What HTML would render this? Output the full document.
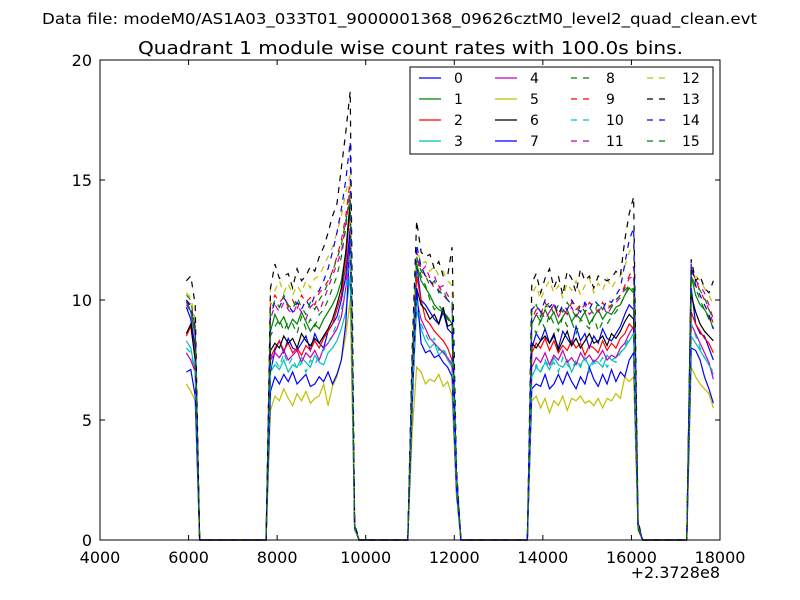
<!DOCTYPE html>
<html><head><meta charset="utf-8"><style>
body{margin:0;background:#fff;}
svg{display:block;font-family:"DejaVu Sans","Liberation Sans",sans-serif;}
</style></head><body>
<svg id="chart" width="800" height="600" viewBox="0 0 800 600" xmlns="http://www.w3.org/2000/svg">
<rect width="800" height="600" fill="#fff"/>
<text x="42" y="24" font-size="15" textLength="715" lengthAdjust="spacingAndGlyphs">Data file: modeM0/AS1A03_033T01_9000001368_09626cztM0_level2_quad_clean.evt</text>
<text x="138" y="54" font-size="18" textLength="545" lengthAdjust="spacingAndGlyphs">Quadrant 1 module wise count rates with 100.0s bins.</text>
<g id="series"></g>
<rect x="100" y="60" width="620" height="480" fill="none" stroke="#000" stroke-width="1"/>
<g id="axes"></g>
<text x="720" y="578" font-size="16" text-anchor="end">+2.3728e8</text>
<g id="legend"></g>
</svg>
<script>
const xTicks = [4000, 6000, 8000, 10000, 12000, 14000, 16000, 18000];
const yTicks = [0, 5, 10, 15, 20];
const seriesNames = ["0","1","2","3","4","5","6","7","8","9","10","11","12","13","14","15"];
const times = [5950,6050,6150,6250,7750,7850,7950,8050,8150,8250,8350,8450,8550,8650,8750,8850,8950,9050,9150,9250,9350,9450,9550,9650,9750,9850,10950,11050,11150,11250,11350,11450,11550,11650,11750,11850,11950,12050,12150,13650,13750,13850,13950,14050,14150,14250,14350,14450,14550,14650,14750,14850,14950,15050,15150,15250,15350,15450,15550,15650,15750,15850,15950,16050,16150,16250,17250,17350,17450,17550,17650,17750,17850];
const s0 = [9.7,9.2,8.0,0,0,7.0,7.9,8.3,7.8,8.4,8.0,7.9,8.2,8.5,7.9,8.6,8.2,8.0,8.7,9.0,9.3,10.0,11.0,13.0,0.6,0,0,7,11.5,10.0,9.8,9.5,9.2,9.0,9.5,8.8,8.6,2.5,0,0,8.0,8.6,8.3,8.8,8.2,8.5,8.0,8.7,8.4,8.1,8.9,8.3,8.6,8.0,8.5,8.2,8.8,8.4,8.3,8.6,8.9,9.4,9.8,9.6,0.5,0,0,10.5,9.0,8.6,8.5,8.0,7.5];
const s1 = [10.0,9.5,8.5,0,0,8.7,9.4,9.0,9.3,8.8,9.2,9.0,9.5,9.1,8.7,9.0,8.8,9.2,9.5,9.8,10.2,10.8,12.0,14.2,0.6,0,0,7,11.5,10.8,10.5,10.2,9.8,9.6,9.5,9.3,9.0,2.5,0,0,9.0,9.4,9.1,9.6,9.2,9.5,9.0,9.3,9.6,9.1,9.4,9.2,9.5,9.0,9.3,9.6,9.2,9.5,9.4,9.7,9.8,10.2,10.5,10.3,0.6,0,0,11.0,10.2,9.8,9.6,9.3,8.8];
const s2 = [8.5,8.9,7.5,0,0,7.6,8.0,8.3,7.9,8.2,7.8,8.0,7.7,8.1,7.9,8.3,8.0,8.4,8.7,9.0,9.6,10.2,11.5,14.0,0.5,0,0,6.5,11.0,10.0,9.2,9.0,8.7,8.5,8.3,8.0,7.5,2.3,0,0,7.8,8.2,8.0,8.4,7.9,8.3,7.8,8.1,7.9,8.3,8.0,8.2,7.7,8.1,8.0,7.8,8.3,7.9,8.2,8.0,8.4,8.6,9.0,8.8,0.5,0,0,9.5,9.0,8.7,8.4,8.2,7.8];
const s3 = [8.3,8.0,7.0,0,0,7.0,7.3,7.1,7.5,7.0,7.3,7.2,7.6,7.4,7.2,7.7,7.4,7.3,7.8,8.0,8.3,8.8,9.5,11.0,0.5,0,0,6,9.6,8.8,8.3,8.0,8.2,7.7,7.9,7.5,7.2,2.2,0,0,6.8,7.2,7.0,7.4,7.1,7.6,7.3,7.2,7.5,7.0,7.4,7.3,7.6,7.2,7.5,7.4,7.2,7.7,7.5,7.6,7.8,8.0,8.3,8.6,0.5,0,0,8.5,8.2,7.9,7.6,7.3,6.9];
const s4 = [7.8,7.5,7.0,0,0,7.5,7.8,7.6,7.9,7.5,7.7,7.9,7.4,7.8,7.6,7.9,7.5,8.0,8.2,8.5,8.8,9.3,10.5,12.5,0.5,0,0,6,10.0,9.2,8.8,8.4,8.2,8.0,7.8,7.6,7.3,2.2,0,0,7.2,7.6,7.4,7.8,7.3,7.7,7.5,7.9,7.4,7.6,7.3,7.8,7.5,7.7,7.4,7.6,7.9,7.5,7.7,7.6,8.0,8.2,8.6,8.9,0.5,0,0,9.0,8.6,8.2,7.8,7.4,6.7];
const s5 = [6.5,6.2,5.8,0,0,5.4,6.0,5.8,6.3,5.9,5.6,6.1,5.8,6.2,5.7,5.9,6.0,6.5,5.6,6.4,6.8,7.5,8.5,10.0,0.4,0,0,4.5,7.2,7.0,6.5,6.7,6.6,6.9,6.4,6.6,6.0,1.8,0,0,5.8,6.0,5.5,5.9,5.3,5.8,5.6,6.0,5.4,5.9,5.8,6.0,5.7,5.8,5.6,5.9,5.5,5.9,5.8,6.1,5.9,6.8,6.6,6.8,0.4,0,0,7.2,6.8,6.5,6.3,6.1,5.5];
const s6 = [8.6,9.0,7.5,0,0,7.9,8.2,8.0,8.5,8.2,8.4,8.0,8.6,8.3,8.1,8.4,8.2,8.5,8.8,9.2,9.8,10.5,12.0,14.0,0.5,0,0,6.6,10.5,9.8,9.6,9.2,9.4,9.0,9.7,8.9,9.0,2.5,0,0,8.2,8.0,8.3,8.5,8.2,8.6,7.9,8.3,8.7,8.1,8.4,8.0,8.3,8.6,8.2,8.3,8.5,8.1,8.6,8.4,8.7,9.1,9.4,9.2,0.5,0,0,10.2,9.5,9.0,8.7,8.5,8.3];
const s7 = [7.0,7.1,6.0,0,0,6.2,6.8,6.5,6.9,6.6,7.0,6.5,6.7,6.9,6.4,6.5,6.8,6.6,7.0,6.5,6.9,7.5,9.0,12.5,0.5,0,0,5.5,10.5,8.2,7.8,7.9,7.6,7.7,7.4,7.2,6.8,2.0,0,0,6.3,6.5,6.4,6.9,6.3,6.5,6.9,6.5,7.0,6.6,6.3,6.8,6.5,7.2,6.7,6.4,6.9,6.5,7.1,6.6,7.0,6.8,7.5,7.8,0.5,0,0,8.0,7.9,7.5,6.8,6.3,5.7];
const s8 = [10.2,10.0,8.8,0,0,8.5,8.9,9.2,8.7,9.1,9.0,8.6,9.3,8.8,9.2,8.9,9.4,9.6,10.0,10.5,11.0,11.8,13.0,14.8,0.6,0,0,7.2,11.8,11.0,10.6,10.0,9.6,9.8,9.5,9.2,9.0,2.6,0,0,9.0,8.6,9.2,8.8,9.4,9.0,8.7,9.3,8.9,9.1,8.6,9.2,9.0,8.8,9.3,8.7,9.1,9.0,9.3,9.5,9.8,10.2,10.6,10.4,0.6,0,0,11.2,10.5,10.0,9.6,9.2,8.8];
const s9 = [10.0,9.8,8.9,0,0,9.8,10.2,9.9,10.1,9.7,10.0,9.6,10.2,9.9,10.1,9.8,10.3,10.5,10.8,11.2,11.8,12.5,13.5,15.0,0.6,0,0,7.5,12.0,11.3,11.0,10.8,10.5,10.6,10.2,10.0,9.8,2.8,0,0,9.2,9.6,9.4,9.9,9.5,9.8,9.3,9.7,9.4,9.9,9.6,9.8,9.5,9.9,9.7,9.5,9.9,9.6,9.8,10.0,10.2,10.6,11.0,11.4,0.7,0,0,11.4,10.8,10.4,10.0,9.6,9.0];
const s10 = [8.0,7.8,7.0,0,0,7.2,7.5,7.2,7.8,7.3,7.6,7.1,7.4,7.0,7.5,7.3,7.7,7.9,8.2,8.6,9.0,9.6,10.5,12.0,0.5,0,0,6,10.0,9.0,8.6,8.2,8.4,7.9,8.0,7.6,7.4,2.2,0,0,6.8,7.3,7.0,7.5,7.2,7.4,7.0,7.6,7.3,7.1,7.5,7.2,7.6,7.0,7.4,7.3,7.6,7.2,7.5,7.4,7.8,8.1,8.4,8.6,0.5,0,0,9.0,8.5,8.0,7.6,7.3,7.0];
const s11 = [9.8,9.5,8.6,0,0,9.2,9.8,9.5,9.9,9.6,9.4,9.8,9.5,9.2,9.7,9.9,9.5,10.0,10.5,11.0,11.5,12.0,13.2,14.5,0.6,0,0,7.3,11.8,11.2,11.4,10.9,11.0,10.5,10.6,10.2,10.0,2.7,0,0,9.0,9.4,9.6,9.2,9.5,9.8,9.3,9.6,9.4,9.7,9.3,9.6,9.8,9.4,9.6,9.5,9.8,9.4,9.7,9.9,10.1,10.5,10.9,11.0,0.6,0,0,11.3,10.8,10.6,10.3,9.8,9.2];
const s12 = [10.3,10.1,9.2,0,0,10.6,10.4,10.8,10.3,10.7,10.2,10.6,10.3,10.8,10.5,10.9,11.0,11.4,11.8,12.2,12.8,13.5,14.5,15.2,0.6,0,0,7.8,12.2,11.5,11.6,11.2,11.4,11.0,11.2,10.8,10.6,2.9,0,0,10.2,10.6,10.0,10.5,10.8,10.3,10.6,10.1,10.7,10.4,10.8,10.2,10.6,10.9,10.3,10.7,10.4,10.9,10.5,10.8,11.0,11.4,12.0,12.3,0.7,0,0,11.4,11.0,10.8,10.5,10.2,9.8];
const s13 = [10.8,11.0,9.8,0,0,10.5,11.5,10.9,11.0,11.1,10.5,11.3,10.8,11.0,11.4,11.2,11.8,12.2,12.8,13.5,14.0,15.5,17.0,18.7,0.7,0,0,8,13.3,12.0,11.8,11.9,11.3,11.6,11.0,11.0,12.2,3.0,0,0,10.7,11.1,10.3,10.9,11.3,10.5,11.0,10.2,11.2,10.9,10.3,11.3,10.8,11.0,10.5,11.0,10.9,10.8,10.9,11.2,11.0,12.5,13.6,14.3,0.8,0,0,11.7,10.8,11.0,10.5,10.3,10.8];
const s14 = [10.0,9.7,8.8,0,0,9.4,9.9,9.7,10.1,9.8,9.5,9.9,9.6,10.0,9.7,10.2,10.4,10.8,11.3,12.0,12.8,13.8,15.0,16.6,0.6,0,0,7.6,12.3,11.4,11.0,10.8,10.6,10.4,10.2,10.0,9.8,2.8,0,0,9.6,9.8,9.5,10.0,9.7,9.9,9.4,9.8,9.6,10.0,9.7,9.5,9.9,9.6,10.0,9.8,9.6,10.0,9.9,10.2,10.5,11.5,12.5,13.0,0.7,0,0,11.5,10.6,10.2,9.8,9.4,8.8];
const s15 = [9.9,9.6,8.7,0,0,9.5,10.0,9.7,10.2,9.8,9.6,10.1,9.7,9.4,9.9,9.6,10.0,10.3,10.7,11.2,11.7,12.3,13.3,14.2,0.6,0,0,7.4,11.8,11.2,11.0,10.6,10.8,10.3,10.4,10.0,9.9,2.7,0,0,9.5,9.8,9.3,9.7,9.9,9.4,9.8,9.5,9.9,9.6,9.3,9.8,9.5,9.7,9.4,9.9,9.6,9.8,9.7,10.0,10.2,10.4,10.6,10.5,0.6,0,0,11.0,10.6,10.4,10.1,9.6,9.2];
const allSeries = [s0,s1,s2,s3,s4,s5,s6,s7,s8,s9,s10,s11,s12,s13,s14,s15];

const NS = "http://www.w3.org/2000/svg";
const colors = ["#0000ff","#008000","#ff0000","#00bfbf","#bf00bf","#bfbf00","#000000"];
const X0=100, X1=720, Y0=540, Y1=60, XMIN=4000, XMAX=18000, YMIN=0, YMAX=20;
function xs(v){return X0+(v-XMIN)/(XMAX-XMIN)*(X1-X0);}
function ys(v){return Y0-(v-YMIN)/(YMAX-YMIN)*(Y0-Y1);}
function mk(tag, attrs, parent){const e=document.createElementNS(NS,tag);for(const k in attrs)e.setAttribute(k,attrs[k]);parent.appendChild(e);return e;}

const sg=document.getElementById("series");
allSeries.forEach((vals,i)=>{
  const d=vals.map((v,j)=>(j?"L":"M")+xs(times[j]).toFixed(2)+","+ys(v).toFixed(2)).join(" ");
  const p=mk("path",{d:d,fill:"none",stroke:colors[i%7],"stroke-width":"1.2","stroke-dasharray":i>=8?"6,6":"none"},sg);
  
  
});

const ax=document.getElementById("axes");
xTicks.forEach(t=>{
  const x=xs(t);
  const a=mk("line",{x1:x,x2:x,y1:Y0,y2:Y0-5,stroke:"#000"},ax);
  
  
  mk("line",{x1:x,x2:x,y1:Y1,y2:Y1+5,stroke:"#000"},ax);
  const l=mk("text",{x:x,y:Y0+23,"font-size":"16","text-anchor":"middle"},ax);
  l.textContent=t;
  
  
});
yTicks.forEach(t=>{
  const y=ys(t);
  const a=mk("line",{x1:X0,x2:X0+5,y1:y,y2:y,stroke:"#000"},ax);
  
  
  mk("line",{x1:X1,x2:X1-5,y1:y,y2:y,stroke:"#000"},ax);
  const l=mk("text",{x:X0-8,y:y+6,"font-size":"16","text-anchor":"end"},ax);
  l.textContent=t;
  
  
});

const lg=document.getElementById("legend");
const box=mk("rect",{x:410,y:67,width:303,height:87,fill:"#fff",stroke:"#000","stroke-width":"1"},lg);


seriesNames.forEach((n,i)=>{
  const col=Math.floor(i/4), row=i%4;
  const x=419+col*76, y=78+row*21;
  const g=mk("g",{},lg);
  
  
  mk("line",{x1:x,x2:x+22,y1:y,y2:y,stroke:colors[i%7],"stroke-width":"1.2","stroke-dasharray":i>=8?"6,6":"none"},g);
  const t=mk("text",{x:x+35,y:y+5,"font-size":"14"},g);
  t.textContent=n;
});
</script>
</body></html>
